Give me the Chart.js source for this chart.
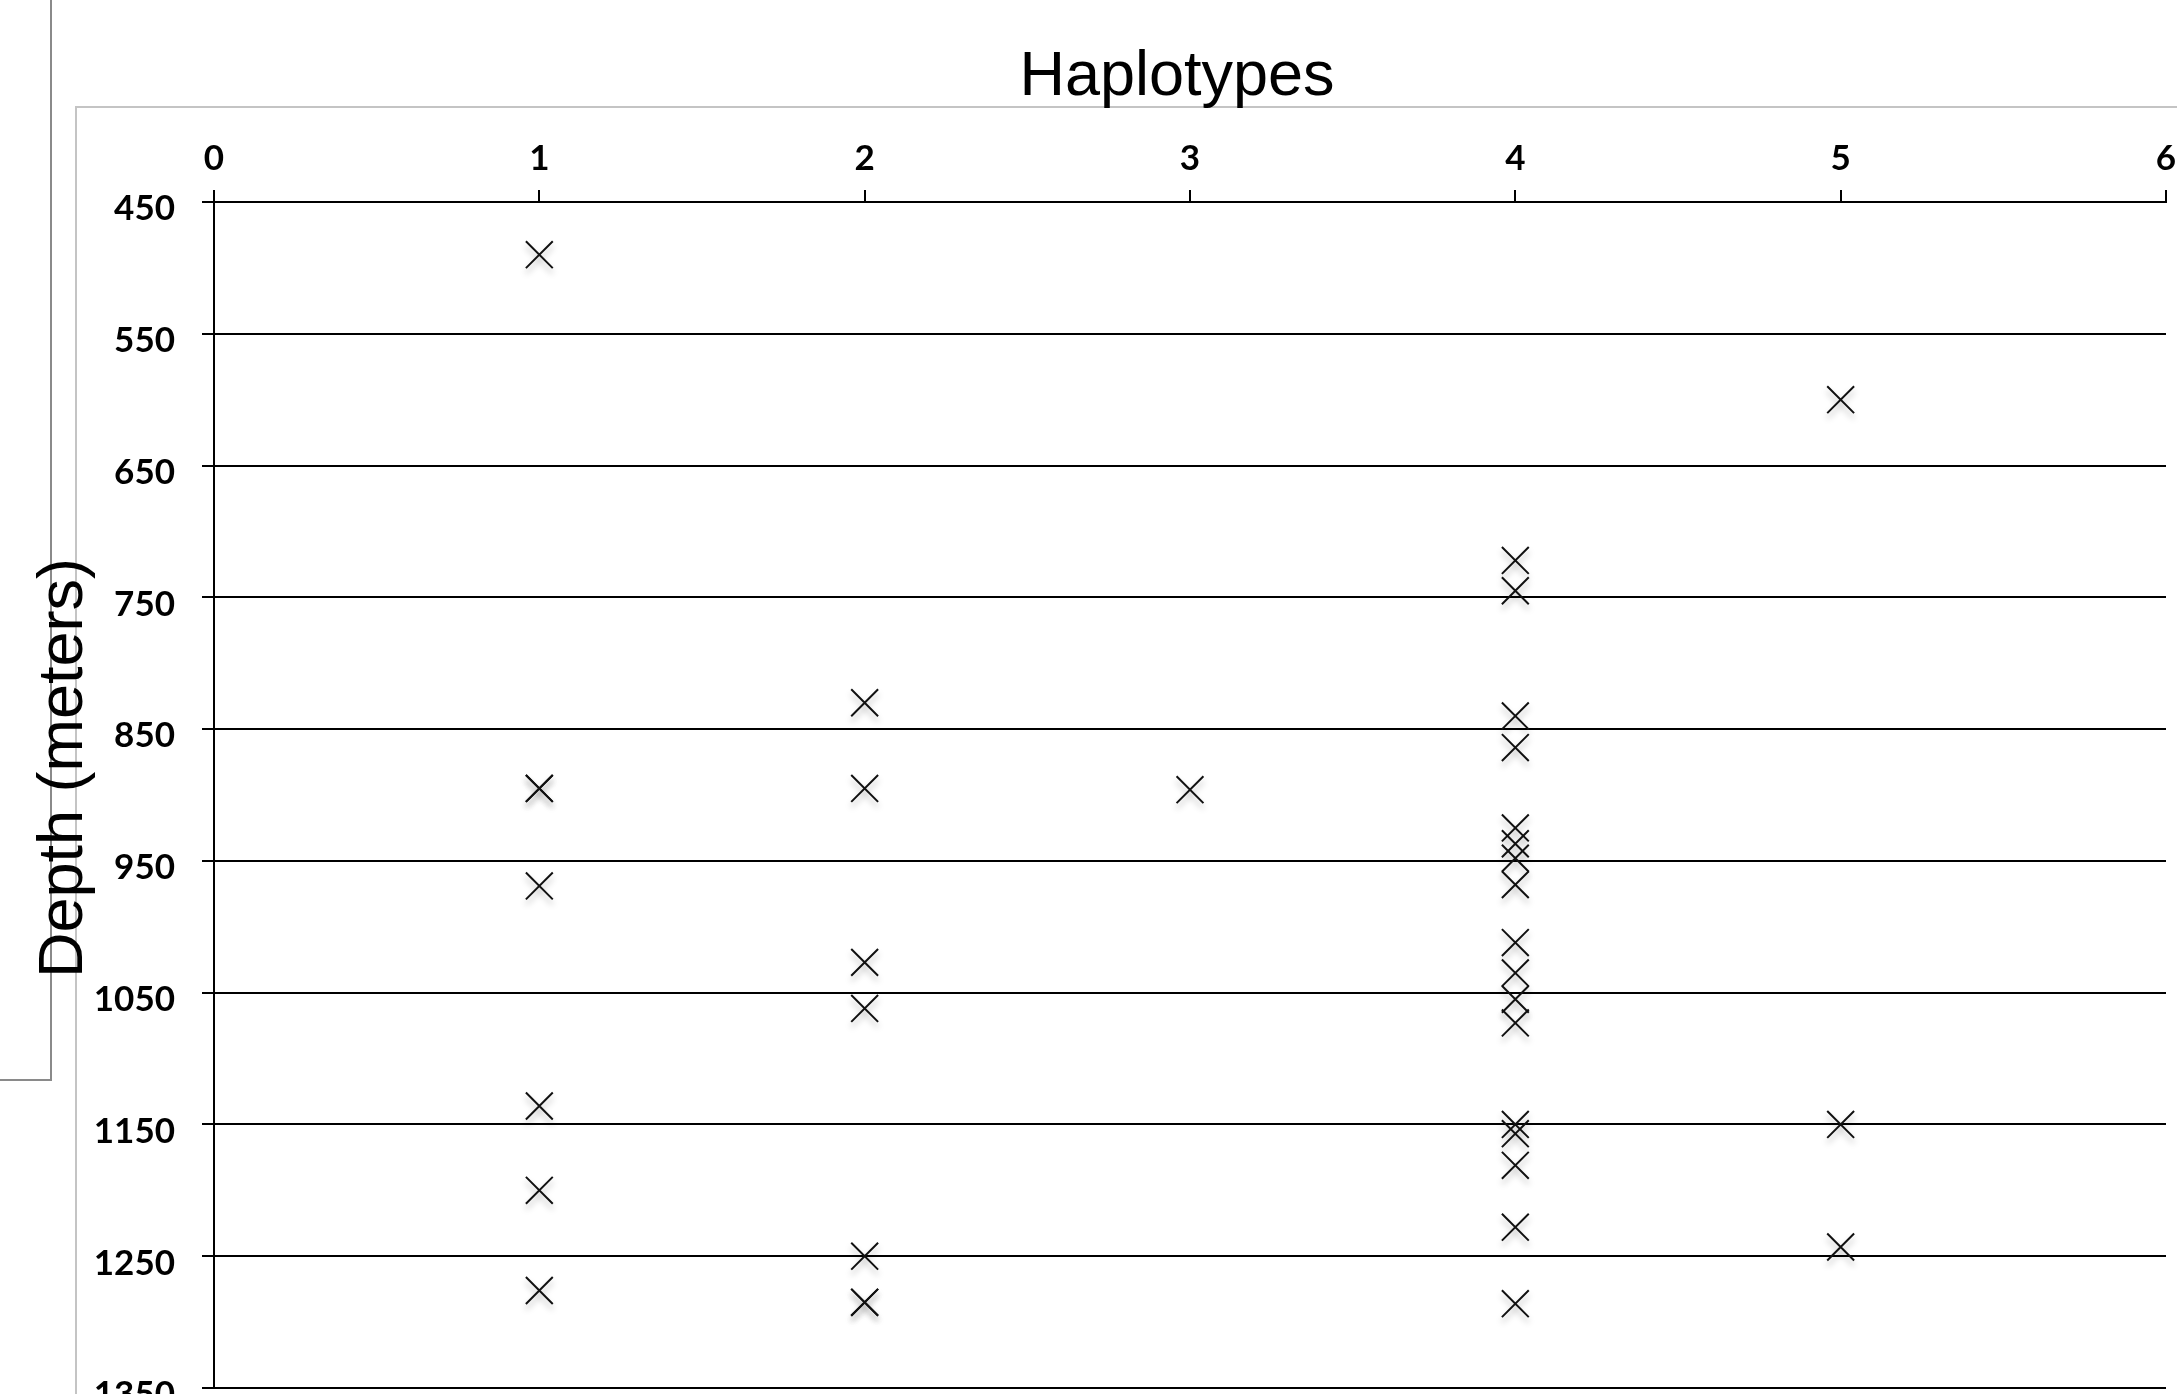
<!DOCTYPE html>
<html>
<head>
<meta charset="utf-8">
<title>Depth vs Haplotypes</title>
<script src="https://cdn.jsdelivr.net/npm/chart.js@4.4.1/dist/chart.umd.min.js"></script>
<style>
    html, body { margin: 0; padding: 0; background: #fff; overflow: hidden; }
    #wrap { position: relative; width: 2177px; height: 1440px; }
</style>
</head>
<body>
<div id="wrap"><canvas id="depth-chart"></canvas></div>
<script>
// --- Data (depth in meters for each sample, grouped by haplotype) --- //
const haplotypeIds = [1, 2, 3, 4, 5];
const depthHap1 = [490, 895, 895, 969, 1136, 1200, 1276];
const depthHap2 = [830, 895, 1027, 1062, 1250, 1285, 1285];
const depthHap3 = [896];
const depthHap4 = [722, 745, 840, 864, 925, 937, 948, 968, 1012, 1035, 1055, 1073, 1150, 1157, 1181, 1228, 1286];
const depthHap5 = [600, 1150, 1243];

const xTitle = 'Haplotypes';
const yTitle = 'Depth (meters)';

const depthsByHaplotype = [depthHap1, depthHap2, depthHap3, depthHap4, depthHap5];
const samplePoints = haplotypeIds.flatMap((h, i) => depthsByHaplotype[i].map(d => ({ x: h, y: d })));

const tickFont = { family: 'Lato', size: 35, weight: 'bold' };
const ink = '#000';

// frame lines behind the chart + the two axis titles on top
const frameAndTitles = {
    id: 'frameAndTitles',
    beforeDraw(chart) {
        const ctx = chart.ctx;
        ctx.save();
        ctx.lineWidth = 2;
        ctx.strokeStyle = '#8a8a8a';
        ctx.beginPath();
        ctx.moveTo(51, 0);
        ctx.lineTo(51, 1080);
        ctx.lineTo(0, 1080);
        ctx.stroke();
        ctx.strokeStyle = '#c4c4c4';
        ctx.beginPath();
        ctx.moveTo(76, chart.height);
        ctx.lineTo(76, 107);
        ctx.lineTo(chart.width, 107);
        ctx.stroke();
        ctx.restore();
    },
    afterDraw(chart) {
        const ctx = chart.ctx;
        ctx.save();
        ctx.fillStyle = '#000';
        ctx.font = '63px "Liberation Sans", Arial, sans-serif';
        ctx.textAlign = 'center';
        ctx.textBaseline = 'alphabetic';
        ctx.fillText(xTitle, 1177, 95);
        ctx.translate(82, 768);
        ctx.rotate(-Math.PI / 2);
        ctx.fillText(yTitle, 0, 0);
        ctx.restore();
    }
};

// soft drop shadow under the markers
const markerShadow = {
    id: 'markerShadow',
    beforeDatasetsDraw(chart) {
        const ctx = chart.ctx;
        ctx.save();
        ctx.shadowColor = 'rgba(0, 0, 0, 0.28)';
        ctx.shadowBlur = 6;
        ctx.shadowOffsetY = 5;
    },
    afterDatasetsDraw(chart) {
        chart.ctx.restore();
    }
};

new Chart(document.getElementById('depth-chart'), {
    type: 'scatter',
    data: {
        datasets: [{
            label: 'Samples',
            data: samplePoints,
            pointStyle: 'crossRot',
            pointRadius: 19,
            pointHoverRadius: 19,
            borderWidth: 2,
            borderColor: '#111',
            backgroundColor: 'transparent'
        }]
    },
    options: {
        responsive: true,
        maintainAspectRatio: false,
        animation: false,
        layout: { autoPadding: false, padding: { top: 0, left: 0, right: 11, bottom: 52 } },
        plugins: {
            legend: { display: false },
            tooltip: { enabled: false }
        },
        scales: {
            x: {
                type: 'linear',
                position: 'top',
                min: 0,
                max: 6,
                ticks: { stepSize: 1, color: '#000', font: tickFont, padding: 10, callback: v => String(v) },
                grid: { drawOnChartArea: false, drawTicks: true, tickLength: 12, color: ink, lineWidth: 2 },
                border: { display: true, color: ink, width: 2 },
                afterFit(scale) {
                    scale.height = 202;
                    scale.paddingLeft = 0;
                    scale.paddingRight = 0;
                }
            },
            y: {
                type: 'linear',
                reverse: true,
                min: 450,
                max: 1350,
                ticks: { stepSize: 100, color: '#000', font: tickFont, padding: 27, labelOffset: 7, callback: v => String(v) },
                grid: { color: ink, lineWidth: 2, tickLength: 12 },
                border: { display: true, color: ink, width: 2 },
                afterFit(scale) {
                    scale.width = 214;
                    scale.paddingTop = 0;
                    scale.paddingBottom = 0;
                }
            }
        }
    },
    plugins: [frameAndTitles, markerShadow]
});
</script>
</body>
</html>
